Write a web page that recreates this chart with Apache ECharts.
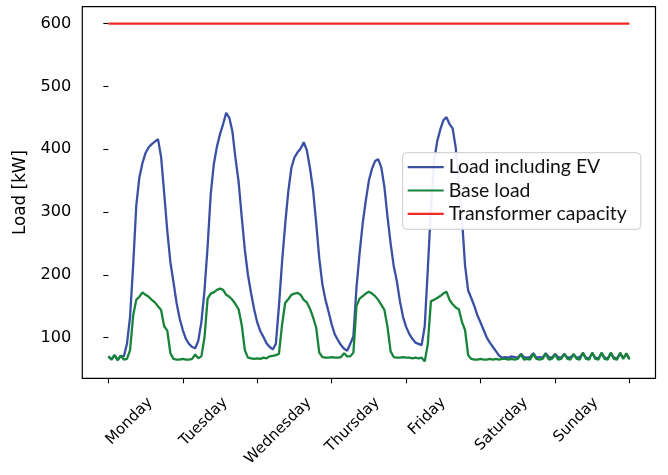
<!DOCTYPE html>
<html>
<head>
<meta charset="utf-8">
<script src="https://cdn.jsdelivr.net/npm/echarts@6/dist/echarts.min.js"></script>
<style>
html,body{margin:0;padding:0;background:#fff;}
#chart{width:668px;height:475px;}
</style>
</head>
<body>
<div id="chart"></div>
<script>
// ---- data (hourly samples, Monday 00:00 to Sunday 24:00) ----
const days = ['Monday','Tuesday','Wednesday','Thursday','Friday','Saturday','Sunday'];
const stepsPerDay = 24;
const yTicks = [100, 200, 300, 400, 500, 600];
const dayTicks = [0, 1, 2, 3, 4, 5, 6, 7];
const capacity = 600;

const loadEV = [
  70, 65, 72, 64, 71, 70, 90, 133, 215, 310, 355, 378, 394, 403, 408, 412, 416, 388, 330, 270, 220, 188, 155, 130,
  112, 98, 90, 85, 83, 95, 125, 175, 245, 328, 376, 404, 424, 440, 458, 450, 428, 385, 348, 292, 240, 200, 171, 145,
  124, 110, 101, 91, 85, 81, 90, 150, 220, 280, 332, 370, 387, 395, 401, 411, 398, 370, 335, 283, 226, 185, 160, 141,
  121, 105, 96, 88, 82, 79, 90, 102, 180, 234, 282, 318, 350, 369, 381, 384, 371, 340, 292, 250, 214, 190, 158, 133,
  117, 106, 98, 92, 90, 88, 118, 210, 305, 380, 412, 431, 446, 451, 440, 433, 402, 345, 290, 215, 175, 163, 150, 135,
  124, 112, 100, 92, 85, 78, 71, 68, 69, 68, 70, 69, 68, 74, 69, 68, 69, 75, 68, 69, 68, 75, 69, 68,
  74, 69, 68, 74, 68, 69, 72, 68, 69, 75, 68, 67, 75, 68, 67, 75, 68, 67, 75, 68, 67, 74, 68, 73,
  67
];

const baseLoad = [
  70, 65, 72, 64, 71, 65, 66, 80, 135, 160, 165, 172, 168, 165, 160, 156, 150, 144, 118, 111, 75, 66, 65, 65,
  66, 65, 65, 66, 73, 67, 70, 100, 162, 170, 172, 176, 178, 176, 168, 165, 160, 153, 145, 120, 80, 68, 67, 66,
  67, 66, 68, 67, 70, 71, 72, 74, 120, 155, 161, 168, 170, 171, 168, 160, 156, 146, 132, 116, 76, 69, 68, 68,
  69, 68, 68, 69, 75, 70, 70, 76, 150, 162, 166, 170, 173, 170, 166, 160, 152, 144, 117, 78, 69, 68, 68, 69,
  68, 68, 67, 68, 67, 68, 62, 90, 158, 160, 163, 166, 170, 173, 160, 153, 148, 145, 125, 112, 72, 66, 65, 65,
  66, 65, 65, 66, 65, 66, 65, 66, 66, 65, 66, 65, 66, 73, 65, 66, 65, 74, 66, 65, 66, 74, 65, 66,
  73, 65, 66, 74, 66, 65, 74, 66, 65, 76, 66, 65, 76, 66, 65, 76, 66, 65, 76, 66, 65, 76, 66, 75,
  65
];

// ---- text sizing: pick font sizes so the rendered text widths match the figure ----
const axisFont = 'DejaVu Sans, Verdana, sans-serif';
const legendFont = 'Lato, sans-serif';
const measureCtx = document.createElement('canvas').getContext('2d');
function textWidth(text, size, family) {
  measureCtx.font = size + 'px ' + family;
  return measureCtx.measureText(text).width;
}
function fitSize(text, target, family) {
  return Math.round(100 * target / textWidth(text, 100, family) * 10) / 10;
}
const xLabelSize = fitSize('Wednesday', 87, axisFont);
const yLabelSize = fitSize('600', 31, axisFont);
const yNameSize = fitSize('Load [kW]', 85, axisFont);
const legendSize = fitSize('Transformer capacity', 178, legendFont);

// ---- build chart ----
const toXY = arr => arr.map((v, i) => [i / stepsPerDay, v]);
const lastX = (loadEV.length - 1) / stepsPerDay;
const yMin = 35.1, yMax = 626.9;

const chart = echarts.init(document.getElementById('chart'), null, {renderer: 'canvas'});
chart.setOption({
  animation: false,
  backgroundColor: '#ffffff',
  grid: {
    left: 82.3, right: 12.5, top: 6.7, bottom: 96.7,
    show: true, borderColor: '#000', borderWidth: 1.2, backgroundColor: 'transparent'
  },
  legend: {
    orient: 'vertical',
    left: 402.7, top: 152.7,
    padding: [5, 14, 6, 5],
    itemGap: 4.3,
    itemWidth: 36, itemHeight: 2.2,
    icon: 'rect',
    backgroundColor: 'rgba(255,255,255,0.92)',
    borderColor: '#cccccc', borderWidth: 1, borderRadius: 4,
    textStyle: {fontFamily: legendFont, fontSize: legendSize, color: '#111'},
    data: ['Load including EV', 'Base load', 'Transformer capacity']
  },
  xAxis: {
    type: 'value',
    min: -0.35, max: 7.35,
    axisLine: {show: false},
    splitLine: {show: false},
    axisTick: {show: true, customValues: dayTicks, length: 5, lineStyle: {color: '#000', width: 1.1}},
    axisLabel: {show: false}
  },
  yAxis: {
    type: 'value',
    min: yMin, max: yMax,
    name: 'Load [kW]',
    nameLocation: 'middle', nameGap: 53,
    nameTextStyle: {fontFamily: axisFont, fontSize: yNameSize, color: '#000'},
    axisLine: {show: false},
    splitLine: {show: false},
    axisTick: {show: true, customValues: yTicks, length: 5, lineStyle: {color: '#000', width: 1.1}},
    axisLabel: {customValues: yTicks, margin: 11, fontFamily: axisFont, fontSize: yLabelSize, color: '#000'}
  },
  series: [
    {
      name: 'Load including EV', type: 'line', data: toXY(loadEV),
      showSymbol: false, color: '#3a50a5', lineStyle: {width: 2.3, color: '#3a50a5'}
    },
    {
      name: 'Base load', type: 'line', data: toXY(baseLoad),
      showSymbol: false, color: '#17843a', lineStyle: {width: 2.3, color: '#17843a'}
    },
    {
      name: 'Transformer capacity', type: 'line', data: [[0, capacity], [lastX, capacity]],
      showSymbol: false, color: '#ee2a2a', lineStyle: {width: 2.3, color: '#ee2a2a'}
    }
  ]
});

// ---- day labels: rotated 45 deg, centred slightly right of each day tick (as in the figure) ----
const axisY = chart.convertToPixel({yAxisIndex: 0}, yMin);
const dayLabels = days.map((d, i) => {
  const w = textWidth(d, xLabelSize, axisFont);
  const cx = chart.convertToPixel({xAxisIndex: 0}, i) + 21;
  const cy = axisY + 16.7 + 0.354 * (w + xLabelSize);
  return {
    type: 'text', x: cx, y: cy, rotation: Math.PI / 4, silent: true,
    style: {
      text: d, fontFamily: axisFont, fontSize: xLabelSize, fill: '#000',
      align: 'center', verticalAlign: 'middle', textAlign: 'center', textVerticalAlign: 'middle'
    }
  };
});
chart.setOption({graphic: dayLabels});
</script>
</body>
</html>
